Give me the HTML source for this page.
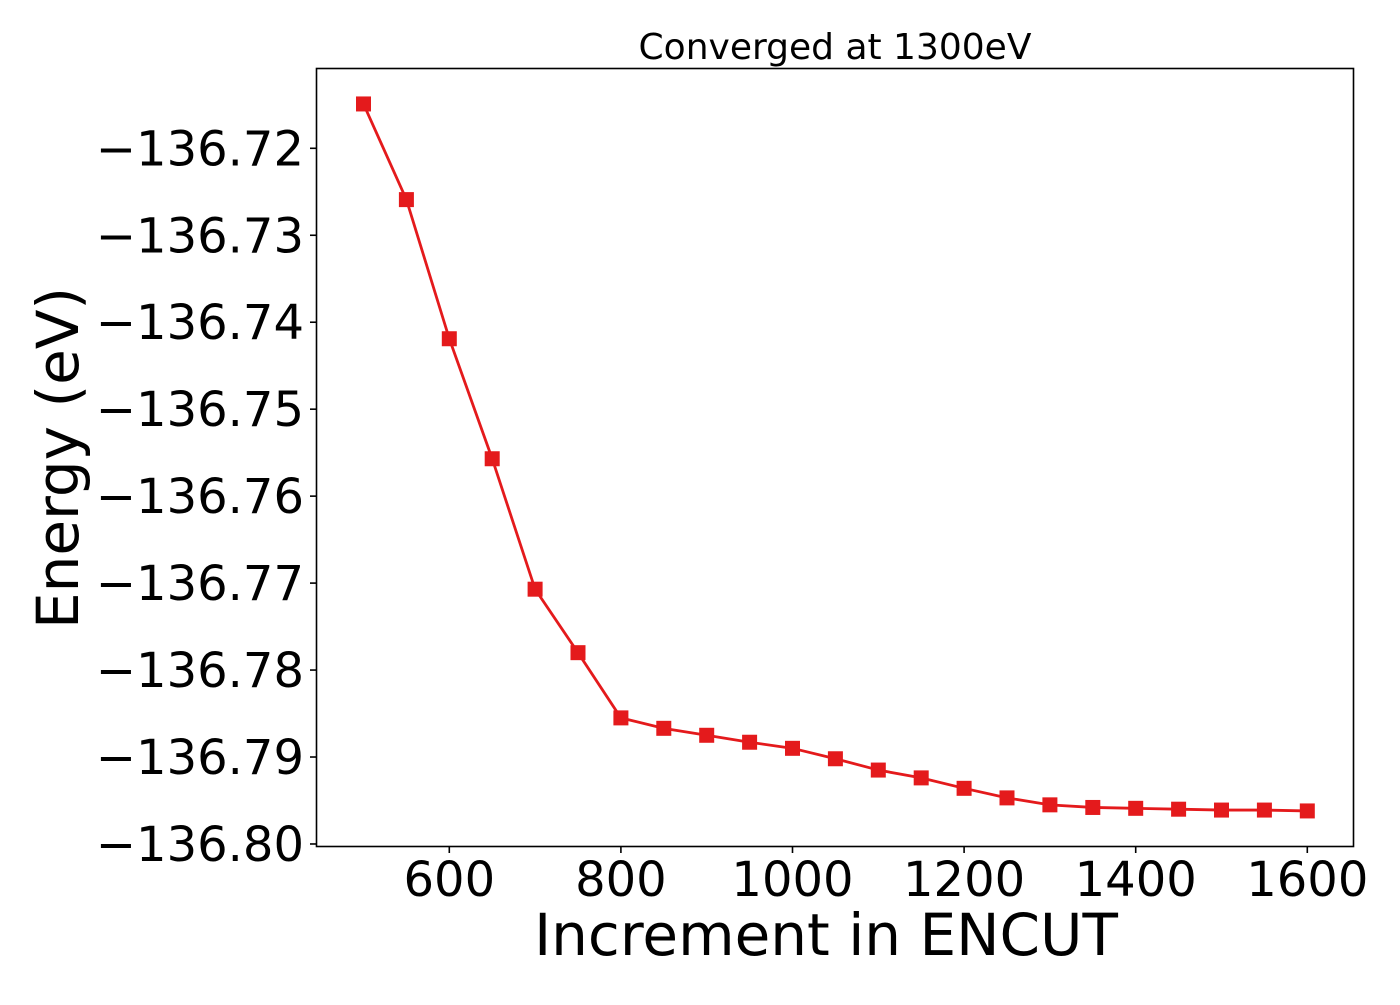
<!DOCTYPE html>
<html><head><meta charset="utf-8"><style>
body{margin:0;background:#fff;}
svg text{font-family:"DejaVu Sans","Liberation Sans",sans-serif;fill:#000;}
</style></head><body>
<svg id="chart" width="1400" height="1000">
<rect x="316.5" y="68.5" width="1037" height="778" fill="none" stroke="#000" stroke-width="1.6"/>
<text x="835" y="59" font-size="36" text-anchor="middle">Converged at 1300eV</text>
<text x="826" y="955" font-size="58" text-anchor="middle">Increment in ENCUT</text>
<text transform="translate(78,458) rotate(-90)" font-size="58" text-anchor="middle">Energy (eV)</text>
<g id="ticks"></g><g id="marks"></g>
</svg>
<script>
const xValues=[500,550,600,650,700,750,800,850,900,950,1000,1050,1100,1150,1200,1250,1300,1350,1400,1450,1500,1550,1600];
const energies=[-136.7149,-136.7259,-136.7419,-136.7557,-136.7707,-136.7780,-136.7855,-136.7867,-136.7875,-136.7883,-136.7890,-136.7902,-136.7915,-136.7924,-136.7936,-136.7947,-136.7955,-136.7958,-136.7959,-136.7960,-136.7961,-136.7961,-136.7962];
const xTicks=[600,800,1000,1200,1400,1600];
const yTicks=[-136.72,-136.73,-136.74,-136.75,-136.76,-136.77,-136.78,-136.79,-136.80];
const yTickLabels=["−136.72","−136.73","−136.74","−136.75","−136.76","−136.77","−136.78","−136.79","−136.80"];
const NS="http://www.w3.org/2000/svg";
const xs=v=>449.3+(v-600)*0.858;
const ys=v=>148.3+(-136.72-v)/0.01*86.96;
const tg=document.getElementById('ticks'), mg=document.getElementById('marks');
function mk(tag,at,parent){const e=document.createElementNS(NS,tag);for(const k in at)e.setAttribute(k,at[k]);parent.appendChild(e);return e;}
xTicks.forEach(t=>{
  const l=mk('line',{x1:xs(t),x2:xs(t),y1:846.5,y2:853,stroke:'#000','stroke-width':1.6},tg);
  
  
  const tx=mk('text',{x:xs(t),y:896,'font-size':48,'text-anchor':'middle'},tg);tx.textContent=t;
  
  
});
yTicks.forEach((t,i)=>{
  const l=mk('line',{x1:310,x2:316.5,y1:ys(t),y2:ys(t),stroke:'#000','stroke-width':1.6},tg);
  
  
  const tx=mk('text',{x:304,y:ys(t)+17,'font-size':48,'text-anchor':'end'},tg);tx.textContent=yTickLabels[i];
  
  
});
const pl=mk('polyline',{points:xValues.map((x,i)=>xs(x)+','+ys(energies[i])).join(' '),fill:'none',stroke:'#e41a1c','stroke-width':2.8},mg);


xValues.forEach((x,i)=>{
  const r=mk('rect',{x:xs(x)-7.5,y:ys(energies[i])-7.5,width:15,height:15,fill:'#e41a1c'},mg);
  
  
});
</script>
</body></html>
